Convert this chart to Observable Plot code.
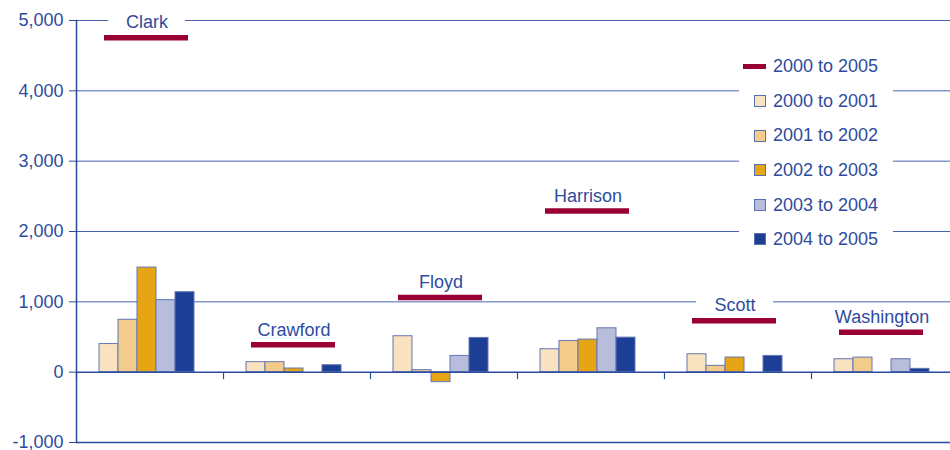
<!DOCTYPE html>
<html><head><meta charset="utf-8">
<script src="https://cdn.jsdelivr.net/npm/d3@7"></script>
<script src="https://cdn.jsdelivr.net/npm/@observablehq/plot@0.6"></script>
<style>
html,body{margin:0;padding:0;background:#fff;overflow:hidden;}
#wrap{position:relative;width:950px;height:450px;overflow:hidden;font-family:"Liberation Sans",Arial,sans-serif;}
#legend{position:absolute;left:739px;top:49px;width:154px;background:#fff;}
.row{height:34.6px;position:relative;font-size:18px;color:#2e4c9e;}
.sw{position:absolute;box-sizing:border-box;}
.lab{position:absolute;left:34px;top:50%;transform:translateY(-50%);white-space:nowrap;}
</style></head><body><div id="wrap"><div id="chart"></div><div id="legend"></div></div>
<script>
const counties = ["Clark", "Crawford", "Floyd", "Harrison", "Scott", "Washington"];
const periods = ["2000 to 2001", "2001 to 2002", "2002 to 2003", "2003 to 2004", "2004 to 2005"];
const totalLabel = "2000 to 2005";
const change2000to2001 = [400, 142, 511, 326, 255, 184];
const change2001to2002 = [745, 142, 28, 444, 90, 207];
const change2002to2003 = [1487, 52, -142, 463, 208, 0];
const change2003to2004 = [1024, 0, 231, 624, 0, 184];
const change2004to2005 = [1137, 99, 487, 491, 231, 47];
const change2000to2005 = [4755, 389, 1060, 2291, 732, 568];
const yTicks = [-1000, 0, 1000, 2000, 3000, 4000, 5000];
const yTickLabels = ["-1,000", "0", "1,000", "2,000", "3,000", "4,000", "5,000"];
const colors = ["#f9e2c0", "#f3cc8b", "#e6a514", "#b8bddc", "#1c3e94"];
const totalColor = "#990033";
const textColor = "#2e4c9e";

const series = [change2000to2001, change2001to2002, change2002to2003, change2003to2004, change2004to2005];
const rows = counties.flatMap((c, i) => periods.map((p, j) => ({county: c, period: p, value: series[j][i]})));
const totals = counties.map((c, i) => ({county: c, value: change2000to2005[i]}));

const plot = Plot.plot({
  width: 950, height: 450,
  marginTop: 20, marginBottom: 8, marginLeft: 75, marginRight: 0,
  style: {fontFamily: '"Liberation Sans", Arial, sans-serif', fontSize: "18px", color: textColor, background: "white", overflow: "visible"},
  fx: {domain: counties, range: [75, 959], padding: 0, axis: null},
  x: {domain: periods, paddingInner: 0, paddingOuter: 1.22, align: 0.44, axis: null},
  y: {domain: [-1000, 5000], axis: null},
  color: {domain: periods, range: colors},
  marks: [
    Plot.ruleY([1000, 2000, 3000, 4000, 5000], {stroke: "#4a63b0", strokeWidth: 1}),
    Plot.barY(rows, {fx: "county", x: "period", y: "value", fill: "period", stroke: "#6477b5", strokeWidth: 1}),
    Plot.ruleY([0], {stroke: "#2a4a9e", strokeWidth: 1.5}),
    Plot.ruleY([-1000], {stroke: "#2a4a9e", strokeWidth: 1.5}),
    Plot.ruleY(totals, {fx: "county", y: "value", dy: -15, stroke: "white", strokeWidth: 20, insetLeft: 32, insetRight: 38}),
    Plot.text(totals, {fx: "county", y: "value", text: "county", dy: -15, dx: -3, fontSize: 18, fill: textColor}),
    Plot.ruleY(totals, {fx: "county", y: "value", stroke: totalColor, strokeWidth: 5.5, insetLeft: 28, insetRight: 35}),
    Plot.frame({anchor: "left", stroke: "#2a4a9e", strokeWidth: 1.2, insetTop: 352, insetBottom: 64}),
    Plot.frame({anchor: "left", fx: [counties[0]], stroke: "#2a4a9e", strokeWidth: 1.5}),
    Plot.axisY(yTicks, {tickSize: 7, tickPadding: 6, label: null, fontSize: 18, tickFormat: d => yTickLabels[yTicks.indexOf(d)]})
  ]
});
document.getElementById("chart").appendChild(plot);

const legend = document.getElementById("legend");
const items = [{label: totalLabel, total: true}].concat(periods.map((p, i) => ({label: p, color: colors[i]})));
for (const it of items) {
  const row = document.createElement("div");
  row.className = "row";
  const sw = document.createElement("div");
  sw.className = "sw";
  if (it.total) {
    sw.style.cssText = `left:4px;top:15px;width:23px;height:5px;background:${totalColor};`;
  } else {
    sw.style.cssText = `left:15px;top:11.5px;width:12px;height:12px;background:${it.color};border:1.5px solid #5a6fb0;`;
  }
  const lab = document.createElement("div");
  lab.className = "lab";
  lab.textContent = it.label;
  row.appendChild(sw);
  row.appendChild(lab);
  legend.appendChild(row);
}
</script></body></html>
